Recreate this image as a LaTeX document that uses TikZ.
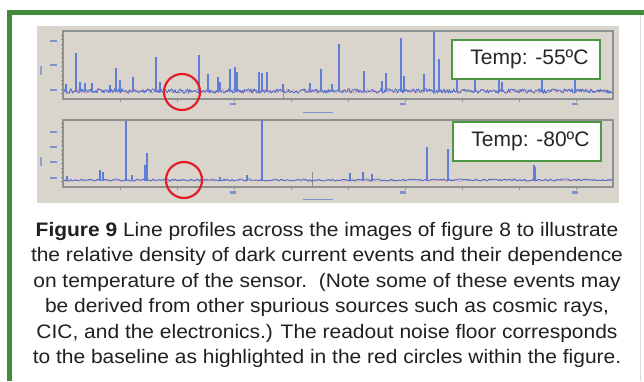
\documentclass[tikz,border=0pt]{standalone}
\usepackage{fontspec}
\setmainfont{Liberation Sans}
\newfontfamily\capfont[FakeStretch=1.075]{Liberation Sans}
\begin{document}
\begin{tikzpicture}[x=1pt,y=-1pt,
  frameline/.style={line width=5pt,draw=greenframe},
  plotframe/.style={draw=plotgray,line width=1.1pt},
  noise/.style={draw=traceblue,line width=0.8pt,line join=round},
  noisered/.style={draw=tracered,line width=0.6pt,opacity=0.6},
  spike/.style={draw=spikeblue,line width=1.1pt},
  ticklab/.style={fill=labblue,opacity=0.85,inner sep=0pt,minimum width=7pt,minimum height=2.4pt},
  tempbox/.style={draw=greenbox,line width=1.4pt,fill=white,minimum width=148pt,minimum height=39pt,inner sep=0pt,font=\fontsize{21}{24}\selectfont,text=black!85},
  ring/.style={draw=ringred,line width=2.2pt,circle,minimum size=36pt,inner sep=0pt},
]
\definecolor{greenframe}{RGB}{66,140,58}
\definecolor{greenbox}{RGB}{78,152,68}
\definecolor{panelgray}{RGB}{218,213,204}
\definecolor{plotgray}{RGB}{140,146,146}
\definecolor{traceblue}{RGB}{70,105,210}
\definecolor{spikeblue}{RGB}{95,125,215}
\definecolor{tracered}{RGB}{200,90,130}
\definecolor{labblue}{RGB}{110,135,205}
\definecolor{ringred}{RGB}{228,30,38}
\definecolor{captext}{RGB}{35,31,32}
\pgfmathsetseed{7}
\useasboundingbox (0,0) rectangle (644,381);
\fill[white] (0,0) rectangle (644,381);
% outer frame
\draw[black!15,line width=0.8pt] (640,15) -- (640,381);
\draw[frameline] (7,12.5) -- (644,12.5);
\draw[frameline] (9.5,10) -- (9.5,381);
% gray panel
\fill[panelgray] (37,26) rectangle (619,203);
% plot frames
\node[plotframe,minimum width=550pt,minimum height=68pt,inner sep=0pt] (p1) at (338,65) {};
\node[plotframe,minimum width=550pt,minimum height=67pt,inner sep=0pt] (p2) at (338,153.5) {};
% ticks left axes
\foreach \yy in {35,39.5,...,97} \draw[plotgray,line width=0.4pt] (61,\yy) -- (63,\yy);
\foreach \yy in {123,127.5,...,185} \draw[plotgray,line width=0.4pt] (61,\yy) -- (63,\yy);
% bottom ticks
\foreach \k in {1,...,9} {
  \draw[plotgray,line width=0.5pt] (63+57*\k,99) -- (63+57*\k,101.5);
  \draw[plotgray,line width=0.5pt] (63+57*\k,187) -- (63+57*\k,189.5);
}
% y tick labels
\foreach \yy in {41,65,90} \node[ticklab] at (53.5,\yy) {};
\foreach \yy in {132,147,162,178} \node[ticklab] at (53.5,\yy) {};
% Counts labels
\draw[labblue,opacity=0.7,line width=2.2pt,rounded corners=1pt] (41,66) -- (41,75);
\draw[labblue,opacity=0.7,line width=2.2pt,rounded corners=1pt] (41,157) -- (41,166);
% x tick labels
\foreach \xx in {233,403,575} {
  \node[ticklab,minimum width=6pt] at (\xx,104) {};
  \node[ticklab,minimum width=6pt] at (\xx,192.5) {};
}
\node[ticklab,minimum width=30pt,minimum height=1.8pt] at (318,112.5) {};
\node[ticklab,minimum width=30pt,minimum height=1.8pt] at (318,199.5) {};
% cursor lines
\draw[plotgray,line width=0.8pt] (283,84) -- (283,99);
\draw[plotgray,line width=0.8pt] (312,172) -- (312,187);
% top trace
\draw[noisered] plot[domain=64:612,samples=360] (\x,{91+2.0*rand});
\draw[noise] plot[domain=64:612,samples=520] (\x,{91+2.3*rand});
\foreach \sx/\sy in {66/84,76/53,80/82,85/83,92/83,110/85,116/68,120/80,133/77,156/57,160/82,
  199/55,208/74,218/77,220/82,230/69,235/67,237/72,259/72,262/73,267/72,283/84,
  310/83,321/69,332/84,339/44,364/71,382/81,386/73,401/38,404/76,424/74,434/31,439/59,
  457/80,475/80,499/80,502/82,542/80,575/80}
  \draw[spike] (\sx,92) -- (\sx,\sy);
% bottom trace
\draw[noisered] plot[domain=64:612,samples=220] (\x,{180.5+0.8*rand});
\draw[noise] plot[domain=64:612,samples=340] (\x,{180+1.1*rand});
\foreach \sx/\sy in {67/176,100/170,103/172,126/121,132/175,145/165,147/153,220/177,247/175,
  262/120,350/173,363/172,372/174,427/147,448/149,534/165,535/167}
  \draw[spike] (\sx,181) -- (\sx,\sy);
% temperature labels
\node[tempbox] (t1) at (526,59.5) {\hspace*{7pt}Temp: -55ºC};
\node[tempbox] (t2) at (527,141.5) {\hspace*{7pt}Temp: -80ºC};
% red circles
\node[ring] (c1) at (182,92) {};
\node[ring] (c2) at (184,180) {};
% caption
\node[align=center,text=captext,font=\capfont\fontsize{19.5}{25.5}\selectfont,inner sep=0pt] (cap) at (327,295)
{\textbf{Figure 9} Line profiles across the images of figure 8 to illustrate\\
the relative density of dark current events and their dependence\\
on temperature of the sensor.\ \ (Note some of these events may\\
be derived from other spurious sources such as cosmic rays,\\
CIC, and the electronics.) The readout noise floor corresponds\\
to the baseline as highlighted in the red circles within the figure.};
\end{tikzpicture}
\end{document}
